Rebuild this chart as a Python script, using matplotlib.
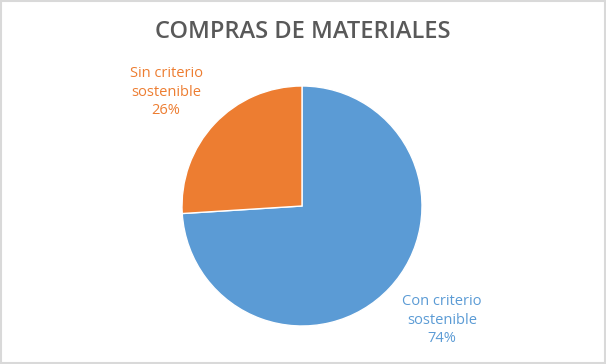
import matplotlib.pyplot as plt
from matplotlib.patches import Rectangle

titulo = "COMPRAS DE MATERIALES"
categorias = ["Con criterio\nsostenible", "Sin criterio\nsostenible"]
valores = [74, 26]
colores = ["#5B9BD5", "#ED7D31"]

W, H = 606, 364
fig = plt.figure(figsize=(W / 100, H / 100), dpi=100)
ax = fig.add_axes([0, 0, 1, 1])

# borde gris del grafico
ax.add_patch(Rectangle((1, 1), W - 2, H - 2, fill=False, edgecolor="#D9D9D9", lw=1.5))

ax.pie(valores, colors=colores, startangle=90, counterclock=False,
       center=(302, H - 206), radius=120, frame=True,
       wedgeprops=dict(edgecolor="white", linewidth=1))
ax.set_xlim(0, W)
ax.set_ylim(0, H)
ax.axis("off")

ax.text(303, H - 32, titulo, ha="center", va="center", fontsize=17,
        color="#595959", family="Open Sans", fontweight="semibold")

pos = [(442, H - 320), (166, H - 92)]
for cat, v, c, (x, y) in zip(categorias, valores, colores, pos):
    ax.text(x, y, f"{cat}\n{v}%", ha="center", va="center", fontsize=10.5,
            color=c, family="Open Sans", fontweight="medium", linespacing=1.35)

fig.savefig("out.png", dpi=100)
